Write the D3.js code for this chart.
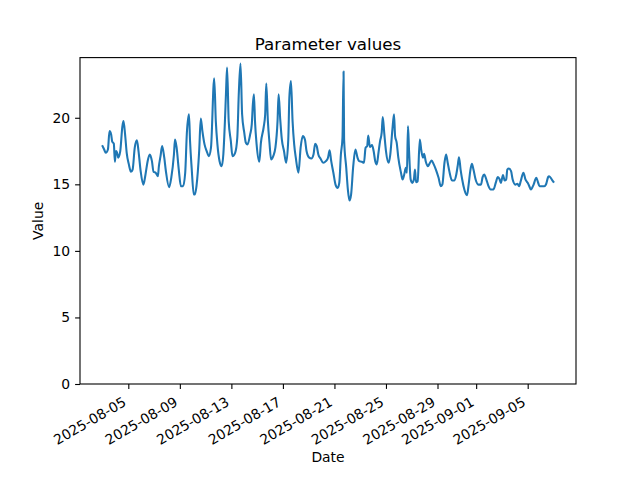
<!DOCTYPE html>
<html>
<head>
<meta charset="utf-8">
<script src="https://cdn.jsdelivr.net/npm/d3@7"></script>
<style>
  body { margin: 0; background: #fff; }
  text { font-family: "DejaVu Sans", sans-serif; fill: #000; }
</style>
</head>
<body>
<script>
// readings: hours after the first reading, and the value read at that hour
const startTime = "2025-08-03T00:00";
const hours = [
  0, 3, 6, 10, 13, 16, 18, 21, 23, 25, 28, 29, 33, 37, 39, 42, 45, 49, 53, 56,
  60, 64, 67, 71, 76, 80, 84, 88, 92, 95, 99, 103, 105, 108, 111, 115, 118, 124, 128, 133,
  135, 138, 142, 146, 150, 154, 157, 161, 163, 166, 170, 172, 175, 180, 183, 186, 190, 194, 198, 202,
  208, 211, 214, 218, 222, 225, 228, 230, 232, 235, 239, 242, 247, 251, 254, 257, 260, 264, 267, 270,
  275, 278, 280, 282, 284, 287, 292, 295, 300, 303, 305, 308, 311, 314, 318, 322, 326, 328, 331, 334,
  338, 342, 346, 348, 351, 354, 357, 360, 365, 369, 373, 377, 380, 385, 389, 393, 396, 399, 402, 406,
  411, 416, 420, 423, 426, 430, 434, 438, 441, 444, 447, 449, 450, 454, 457, 460, 463, 467, 471, 475,
  478, 483, 487, 490, 493, 495, 498, 502, 505, 508, 511, 514, 517, 520, 522, 525, 528, 533, 536, 540,
  543, 545, 548, 551, 556, 559, 562, 565, 567, 569, 571, 574, 577, 580, 582, 584, 587, 591, 594, 597,
  599, 602, 606, 610, 613, 617, 621, 626, 630, 633, 637, 640, 643, 646, 651, 655, 659, 662, 664, 667,
  670, 674, 679, 682, 685, 688, 691, 695, 700, 705, 708, 711, 715, 719, 723, 728, 733, 736, 739, 742,
  746, 749, 752, 754, 757, 761, 764, 769, 773, 776, 779, 784, 788, 792, 795, 798, 803, 808, 811, 814,
  818, 823, 826, 830, 832, 837, 840
];
const values = [
  17.87, 17.62, 17.37, 17.62, 19.0, 18.75, 18.2, 18.05, 16.69, 17.5, 17.24, 17.0, 17.5, 19.37, 19.75, 18.75, 17.37, 16.5, 15.94, 16.11,
  17.75, 18.3, 17.5, 15.99, 14.98, 15.74, 16.74, 17.24, 16.74, 15.94, 15.87, 15.61, 16.36, 17.12, 17.87, 17.0, 15.99, 14.78, 15.49, 17.24,
  18.37, 17.75, 16.11, 14.86, 14.86, 15.87, 18.8, 20.26, 18.25, 16.24, 14.23, 14.23, 14.86, 17.5, 19.95, 19.0, 18.0, 17.5, 17.12, 17.75,
  22.97, 19.75, 18.0, 16.74, 16.36, 17.24, 19.75, 21.89, 23.77, 19.75, 18.25, 17.12, 17.37, 18.5, 22.0, 24.07, 20.26, 18.88, 18.12, 18.0,
  18.75, 19.5, 21.0, 21.76, 19.75, 18.0, 16.69, 18.12, 19.25, 20.26, 22.57, 19.75, 18.12, 16.87, 17.12, 17.75, 19.75, 21.76, 19.88, 18.37,
  17.5, 16.62, 18.37, 21.51, 22.76, 19.75, 18.0, 17.0, 15.87, 17.75, 18.62, 18.37, 17.5, 17.0, 16.94, 17.24, 18.05, 17.87, 17.24, 16.94,
  16.62, 16.74, 17.0, 17.55, 16.74, 15.87, 14.98, 14.73, 15.11, 17.24, 18.5, 23.47, 18.37, 16.24, 14.61, 13.78, 14.23, 16.36, 17.62, 17.0,
  16.74, 16.69, 16.62, 17.75, 17.87, 18.67, 17.8, 17.95, 17.5, 16.74, 16.5, 17.37, 18.25, 18.88, 20.05, 18.75, 17.5, 16.62, 17.24, 19.13,
  20.26, 18.62, 18.12, 17.0, 15.87, 15.36, 15.74, 16.24, 15.87, 19.37, 17.5, 15.36, 15.11, 15.36, 16.11, 15.16, 15.23, 18.37, 17.5, 17.0,
  17.3, 16.74, 16.36, 16.62, 16.79, 16.5, 16.11, 15.49, 14.86, 14.98, 16.62, 17.24, 16.62, 15.99, 15.29, 15.29, 15.74, 16.5, 17.04, 16.11,
  15.36, 14.61, 14.18, 14.98, 15.99, 16.54, 16.11, 15.36, 14.98, 14.98, 15.54, 15.74, 15.36, 14.86, 14.61, 14.61, 15.19, 15.54, 15.44, 15.11,
  15.69, 15.29, 15.36, 16.11, 16.19, 15.99, 15.36, 14.98, 15.04, 14.86, 15.23, 15.87, 15.36, 15.11, 14.86, 14.61, 14.98, 15.49, 15.19, 14.86,
  14.86, 14.86, 14.98, 15.54, 15.61, 15.36, 15.19
];
const xTickLabels = ["2025-08-05", "2025-08-09", "2025-08-13", "2025-08-17", "2025-08-21",
                     "2025-08-25", "2025-08-29", "2025-09-01", "2025-09-05"];
const yTicks = [0, 5, 10, 15, 20];

const width = 640, height = 480;
const margin = {left: 80, right: 64, top: 57.6, bottom: 96};

const parseTime = d3.utcParse("%Y-%m-%dT%H:%M");
const parseDay = d3.utcParse("%Y-%m-%d");
const t0 = parseTime(startTime);
const data = hours.map((h, i) => ({date: d3.utcHour.offset(t0, h), value: values[i]}));

// 5% margin on the time extent, like matplotlib
const ext = d3.extent(data, d => d.date);
const pad = (ext[1] - ext[0]) * 0.05;

const x = d3.scaleUtc()
  .domain([new Date(+ext[0] - pad), new Date(+ext[1] + pad)])
  .range([margin.left, width - margin.right]);

const y = d3.scaleLinear()
  .domain([0, 24.52])
  .range([height - margin.bottom, margin.top]);

const svg = d3.select("body").append("svg")
  .attr("width", width)
  .attr("height", height);

const line = d3.line()
  .curve(d3.curveMonotoneX)
  .x(d => x(d.date))
  .y(d => y(d.value));

svg.append("path")
  .datum(data)
  .attr("fill", "none")
  .attr("stroke", "#1f77b4")
  .attr("stroke-width", 2.08)
  .attr("stroke-linejoin", "round")
  .attr("stroke-linecap", "square")
  .attr("d", line);

// frame
svg.append("rect")
  .attr("x", margin.left)
  .attr("y", margin.top)
  .attr("width", width - margin.left - margin.right)
  .attr("height", height - margin.top - margin.bottom)
  .attr("fill", "none")
  .attr("stroke", "#000")
  .attr("stroke-width", 1.1);

// x axis
const xAxis = svg.append("g")
  .attr("transform", `translate(0,${height - margin.bottom})`)
  .call(d3.axisBottom(x)
    .tickValues(xTickLabels.map(parseDay))
    .tickSize(4.9)
    .tickFormat(d3.utcFormat("%Y-%m-%d")));
xAxis.select(".domain").remove();
xAxis.selectAll(".tick line").attr("stroke", "#000").attr("stroke-width", 1.1);
xAxis.selectAll(".tick text")
  .attr("font-size", 13.9)
  .attr("font-family", "DejaVu Sans")
  .attr("text-anchor", "end")
  .attr("x", null).attr("y", null).attr("dy", null)
  .attr("transform", "translate(-1.6,20.8) rotate(-30)");

// y axis
const yAxis = svg.append("g")
  .attr("transform", `translate(${margin.left},0)`)
  .call(d3.axisLeft(y).tickValues(yTicks).tickSize(4.9).tickPadding(4.9));
yAxis.select(".domain").remove();
yAxis.selectAll(".tick line").attr("stroke", "#000").attr("stroke-width", 1.1);
yAxis.selectAll(".tick text")
  .attr("font-size", 13.9)
  .attr("font-family", "DejaVu Sans");

// labels
svg.append("text")
  .attr("x", (margin.left + width - margin.right) / 2)
  .attr("y", 49.7)
  .attr("text-anchor", "middle")
  .attr("font-size", 16.7)
  .text("Parameter values");

svg.append("text")
  .attr("x", (margin.left + width - margin.right) / 2)
  .attr("y", 462)
  .attr("text-anchor", "middle")
  .attr("font-size", 13.9)
  .text("Date");

svg.append("text")
  .attr("transform", `translate(43,${(margin.top + height - margin.bottom) / 2}) rotate(-90)`)
  .attr("text-anchor", "middle")
  .attr("font-size", 13.9)
  .text("Value");
</script>
</body>
</html>
